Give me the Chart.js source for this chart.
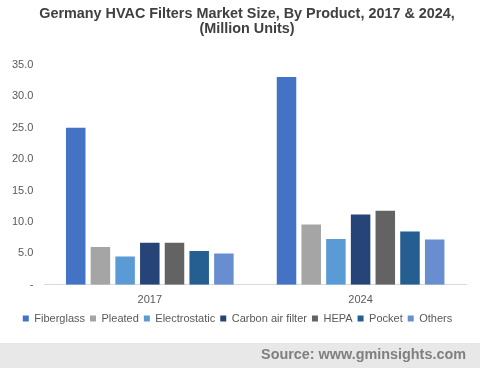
<!DOCTYPE html>
<html>
<head>
<meta charset="utf-8">
<script src="https://cdn.jsdelivr.net/npm/chart.js@4"></script>
<style>
html,body{margin:0;padding:0;background:#fff;}
#wrap{position:relative;width:480px;height:368px;}
</style>
</head>
<body>
<div id="wrap"><canvas id="c" width="480" height="368"></canvas></div>
<script>
const categories = ['2017', '2024'];
const seriesNames = ['Fiberglass', 'Pleated', 'Electrostatic', 'Carbon air filter', 'HEPA', 'Pocket', 'Others'];
const fiberglass = [25.0, 33.1];
const pleated = [6.0, 9.6];
const electrostatic = [4.5, 7.3];
const carbonAirFilter = [6.7, 11.2];
const hepa = [6.7, 11.8];
const pocket = [5.4, 8.5];
const others = [5.0, 7.2];
const yTicks = [0, 5, 10, 15, 20, 25, 30, 35];
const titleLines = ['Germany HVAC Filters Market Size, By Product, 2017 & 2024,', '(Million Units)'];
const sourceText = 'Source: www.gminsights.com';

const seriesValues = [fiberglass, pleated, electrostatic, carbonAirFilter, hepa, pocket, others];
const colors = ['#4472C4', '#A5A5A5', '#5B9BD5', '#264478', '#636363', '#255E91', '#698ED0'];

const decorations = {
  id: 'decorations',
  beforeDraw(chart) {
    const ctx = chart.ctx;
    ctx.save();
    ctx.fillStyle = '#E8E8E8';
    ctx.fillRect(0, 343, 480, 25);
    ctx.fillStyle = '#7F7F7F';
    ctx.font = 'bold 14.4px "Liberation Sans", Arial, sans-serif';
    ctx.textAlign = 'right';
    ctx.textBaseline = 'middle';
    ctx.fillText(sourceText, 466, 355);
    ctx.fillStyle = '#404040';
    ctx.textAlign = 'center';
    ctx.font = 'bold 14.4px "Liberation Sans", Arial, sans-serif';
    ctx.fillText(titleLines[0], 247, 14);
    ctx.fillText(titleLines[1], 247, 29);
    ctx.restore();
  }
};

new Chart(document.getElementById('c'), {
  type: 'bar',
  data: {
    labels: categories,
    datasets: seriesNames.map((n, i) => ({
      label: n,
      data: seriesValues[i],
      backgroundColor: colors[i],
      borderWidth: 0,
      categoryPercentage: 0.82,
      barPercentage: 0.79
    }))
  },
  options: {
    responsive: false,
    animation: false,
    devicePixelRatio: 1,
    layout: { padding: { left: 9, right: 14, top: 65, bottom: 34 } },
    plugins: {
      title: { display: false },
      legend: {
        position: 'bottom',
        labels: {
          boxWidth: 6,
          boxHeight: 6,
          padding: 5,
          color: '#595959',
          font: { family: '"Liberation Sans", Arial, sans-serif', size: 11 }
        }
      },
      tooltip: { enabled: false }
    },
    scales: {
      x: {
        grid: { display: false },
        border: { display: true, color: '#D9D9D9', width: 1 },
        ticks: { color: '#595959', font: { family: '"Liberation Sans", Arial, sans-serif', size: 11 }, padding: 1 }
      },
      y: {
        min: 0,
        max: 35,
        afterBuildTicks(axis) { axis.ticks = yTicks.map(v => ({ value: v })); },
        grid: { display: false },
        border: { display: false },
        ticks: {
          color: '#595959',
          font: { family: '"Liberation Sans", Arial, sans-serif', size: 11 },
          padding: 3,
          callback: v => v === 0 ? '-' : Number(v).toFixed(1)
        }
      }
    }
  },
  plugins: [decorations]
});
</script>
</body>
</html>
